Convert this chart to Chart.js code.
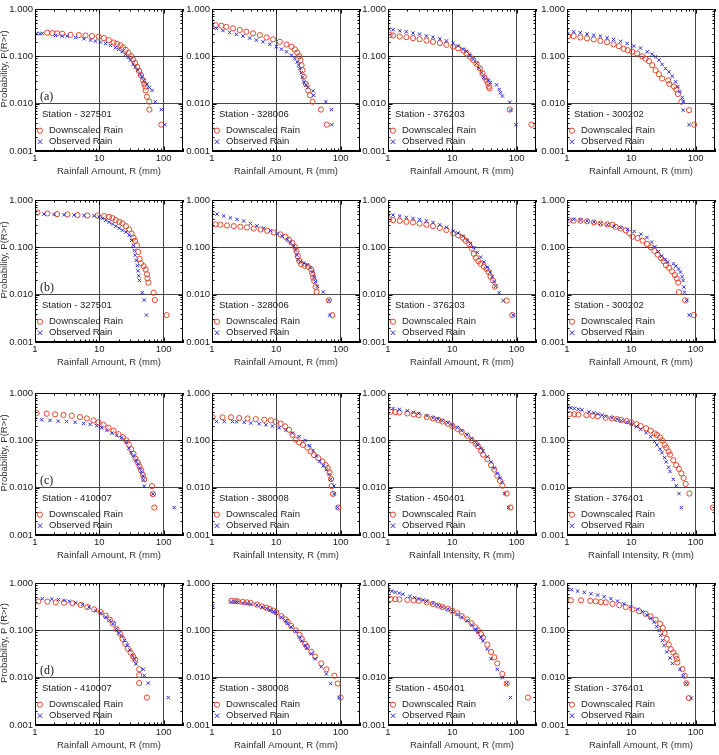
<!DOCTYPE html>
<html><head><meta charset="utf-8">
<script src="https://cdn.jsdelivr.net/npm/chart.js@4.4.1/dist/chart.umd.min.js"></script>
<style>
html,body{margin:0;padding:0;background:#fff;}
#wrap{position:relative;width:719px;height:755px;overflow:hidden;background:#fff;}
canvas{position:absolute;}
</style></head><body><div id="wrap"></div>
<script>
// ---------- data (x = rainfall R in mm, y = exceedance probability P(R>r)) ----------
const a1Down=[[1.55,0.316],[1.86,0.31],[2.2,0.305],[2.65,0.30],[3.57,0.285],[4.8,0.28],[6.1,0.276],[7.7,0.268],[9.8,0.26],[11.8,0.243],[14,0.22],[16.7,0.196],[18.9,0.184],[21.3,0.17],[23.4,0.154],[25.7,0.138],[28.3,0.119],[31.2,0.101],[33.5,0.086],[36,0.073],[38.6,0.06],[41.5,0.049],[44.5,0.04],[47.9,0.031],[50,0.026],[52,0.023],[52.6,0.019],[55,0.014],[60,0.011],[60,0.0075],[92,0.0036]];
const a1Obs=[[1.06,0.305],[1.2,0.30],[1.3,0.305],[2.09,0.277],[2.65,0.268],[3.17,0.268],[4.27,0.25],[5.75,0.235],[7.3,0.22],[8.7,0.21],[10.4,0.20],[12.5,0.187],[14.9,0.17],[17.8,0.152],[20,0.14],[22.6,0.125],[25.5,0.11],[28,0.095],[30.4,0.083],[33.5,0.068],[36.3,0.06],[39.5,0.051],[43.5,0.042],[46,0.037],[49,0.031],[55,0.026],[60,0.022],[66,0.019],[74,0.011],[92,0.0075],[104,0.0036]];
const a2Down=[[1.14,0.458],[1.4,0.443],[1.67,0.42],[2.12,0.39],[2.7,0.36],[3.43,0.33],[4.35,0.305],[5.53,0.28],[7.03,0.25],[8.9,0.228],[11.3,0.203],[14.4,0.178],[17.2,0.16],[19.4,0.14],[21.1,0.12],[22.7,0.101],[23.8,0.083],[24.7,0.065],[25.6,0.051],[26.8,0.037],[28.8,0.026],[31.3,0.019],[33.3,0.015],[36.6,0.011],[49.4,0.0075],[61,0.0036]];
const a2Obs=[[1.0,0.41],[1.17,0.39],[1.48,0.35],[1.88,0.32],[2.39,0.29],[3.04,0.268],[3.86,0.243],[4.9,0.22],[6.2,0.203],[7.9,0.18],[10,0.16],[12,0.142],[14.4,0.125],[17.2,0.106],[19.4,0.09],[21.1,0.076],[22.2,0.065],[23.2,0.055],[24.4,0.045],[25.6,0.036],[26.8,0.029],[28.8,0.025],[31.3,0.022],[37.5,0.0186],[38,0.015],[59,0.011],[72,0.0075],[73,0.0036]];
const a3Down=[[1.06,0.285],[1.2,0.276],[1.52,0.263],[1.93,0.254],[2.45,0.242],[3.1,0.23],[3.96,0.216],[5.0,0.202],[6.4,0.19],[8.1,0.175],[10.3,0.16],[12.3,0.148],[14.8,0.132],[16.6,0.116],[18.7,0.098],[21.1,0.084],[23.8,0.069],[26.8,0.056],[29.5,0.044],[31.7,0.036],[34,0.031],[35.8,0.027],[37,0.023],[38,0.021],[78,0.0075],[170,0.0036]];
const a3Obs=[[1.04,0.376],[1.2,0.365],[1.52,0.347],[1.93,0.33],[2.45,0.31],[3.1,0.295],[3.96,0.27],[5.0,0.254],[6.4,0.234],[8.1,0.212],[10.3,0.19],[12.3,0.166],[14.8,0.141],[16.6,0.126],[18.7,0.107],[21.1,0.086],[23.8,0.071],[26.2,0.056],[28.5,0.045],[31,0.036],[36.2,0.031],[39.3,0.028],[48.8,0.025],[53.7,0.02],[56,0.017],[60,0.0145],[78,0.0107],[80.6,0.0073],[98,0.0036]];
const a4Down=[[1.04,0.268],[1.27,0.268],[1.61,0.25],[2.05,0.24],[2.6,0.228],[3.3,0.212],[4.2,0.2],[5.3,0.18],[6.4,0.164],[7.6,0.144],[8.8,0.135],[10.3,0.125],[12.3,0.115],[14.7,0.1],[16.6,0.089],[18.8,0.079],[21.1,0.065],[23.8,0.051],[26.8,0.042],[30.2,0.034],[37.5,0.031],[39,0.026],[46,0.023],[50,0.02],[53,0.016],[60,0.011],[79,0.0073],[95,0.0036]];
const a4Obs=[[1.0,0.34],[1.27,0.33],[1.61,0.315],[2.05,0.296],[2.6,0.28],[3.3,0.268],[4.2,0.247],[5.3,0.228],[6.8,0.207],[8.6,0.187],[10.9,0.165],[13.9,0.15],[17.7,0.125],[21.1,0.111],[23.8,0.098],[26.8,0.083],[30.2,0.068],[34,0.055],[38.4,0.047],[43.3,0.038],[48.8,0.029],[53,0.023],[57,0.018],[62,0.0135],[64,0.011],[64,0.0073],[79,0.0036]];
const b1Down=[[1.09,0.547],[1.56,0.52],[2.2,0.504],[3.19,0.496],[4.57,0.48],[6.5,0.47],[9.4,0.47],[11.9,0.457],[14.2,0.44],[16,0.414],[18,0.375],[20.4,0.346],[22.9,0.32],[25.9,0.28],[29.2,0.238],[31.7,0.195],[34,0.16],[36,0.137],[38.4,0.11],[40.3,0.08],[42.3,0.057],[44.4,0.046],[48.8,0.04],[52.5,0.034],[55,0.027],[56,0.022],[58,0.018],[70,0.011],[73,0.0077],[111,0.0037]];
const b1Obs=[[1.0,0.52],[1.38,0.504],[1.98,0.496],[2.83,0.488],[4.05,0.48],[5.8,0.47],[8.3,0.464],[9.9,0.44],[11.2,0.41],[12.6,0.375],[14.2,0.34],[16,0.31],[18,0.28],[20.4,0.254],[22.9,0.23],[25.9,0.21],[29.2,0.18],[31.7,0.14],[33.7,0.11],[35,0.086],[36,0.068],[37.5,0.053],[39,0.041],[40,0.032],[41,0.025],[42,0.02],[46.5,0.011],[50,0.0077],[54,0.0037]];
const b2Down=[[1.13,0.305],[1.35,0.30],[1.71,0.29],[2.18,0.28],[2.77,0.272],[3.5,0.263],[4.46,0.25],[5.7,0.238],[7.2,0.224],[9.1,0.206],[11.6,0.187],[13.9,0.167],[15.7,0.146],[17.7,0.125],[19.4,0.103],[20.6,0.084],[21.6,0.065],[22.7,0.052],[24.4,0.044],[27.5,0.041],[31,0.039],[34.9,0.034],[36.2,0.028],[37.5,0.023],[38.9,0.0195],[40.8,0.0145],[42.3,0.0114],[65.8,0.0076],[74,0.0037]];
const b2Obs=[[1.0,0.54],[1.2,0.505],[1.52,0.46],[1.93,0.42],[2.45,0.39],[3.1,0.36],[3.96,0.32],[5.0,0.285],[6.4,0.252],[8.1,0.224],[10.3,0.196],[12.3,0.172],[14.8,0.146],[16.6,0.125],[18.7,0.106],[20,0.087],[20.9,0.068],[21.9,0.055],[23.8,0.05],[26.9,0.047],[30.2,0.043],[34,0.037],[36.6,0.03],[38.4,0.024],[40.7,0.019],[43.3,0.015],[53.7,0.0114],[65.8,0.0076],[67.6,0.0037]];
const b3Down=[[1.04,0.388],[1.2,0.375],[1.52,0.363],[1.93,0.346],[2.45,0.335],[3.1,0.318],[3.96,0.30],[5.0,0.28],[6.4,0.258],[8.1,0.232],[10.3,0.198],[12.3,0.18],[14.4,0.16],[16.2,0.137],[18.3,0.116],[20.2,0.094],[21.6,0.073],[23.2,0.06],[25.3,0.051],[27.5,0.045],[31,0.039],[34,0.035],[36.6,0.03],[39.3,0.024],[42.7,0.02],[46,0.0148],[70,0.0075],[85.5,0.0037]];
const b3Obs=[[1.0,0.504],[1.2,0.48],[1.52,0.457],[1.93,0.428],[2.45,0.407],[3.1,0.388],[3.96,0.363],[5.0,0.335],[6.4,0.30],[8.1,0.265],[10.3,0.222],[12.3,0.2],[14.8,0.171],[17,0.141],[19.1,0.12],[21.6,0.098],[24.4,0.078],[27.5,0.062],[31,0.049],[34.9,0.038],[38.4,0.03],[41.6,0.024],[44.7,0.019],[47,0.015],[53.5,0.011],[61.7,0.0075],[88.5,0.0037]];
const b4Down=[[1.06,0.377],[1.27,0.365],[1.62,0.365],[2.06,0.355],[2.62,0.336],[3.33,0.32],[4.24,0.305],[5.1,0.30],[5.7,0.27],[6.85,0.25],[8.2,0.228],[9.3,0.2],[10.4,0.168],[12.5,0.157],[15,0.138],[17.5,0.118],[20.2,0.1],[22.8,0.084],[25.7,0.07],[29,0.059],[31.8,0.051],[34.5,0.042],[38.6,0.037],[43,0.031],[47.4,0.026],[50.8,0.022],[53.5,0.018],[55.2,0.0113],[68.7,0.0076],[94,0.0037]];
const b4Obs=[[1.0,0.395],[1.27,0.39],[1.62,0.377],[2.06,0.36],[2.62,0.342],[3.33,0.32],[4.24,0.30],[5.4,0.28],[6.85,0.26],[8.7,0.24],[11.1,0.217],[14.1,0.19],[17.5,0.162],[20.7,0.129],[23.3,0.103],[26.3,0.081],[29.7,0.065],[33.5,0.055],[36.9,0.049],[45.2,0.045],[49.2,0.04],[54.2,0.035],[58.2,0.03],[61.7,0.024],[64,0.02],[65.6,0.0145],[67.2,0.0113],[73,0.0076],[79.4,0.0037]];
const c1Down=[[1.06,0.377],[1.52,0.365],[2.05,0.354],[2.77,0.343],[3.73,0.33],[5.0,0.31],[6.4,0.29],[8.1,0.264],[9.7,0.24],[11.6,0.213],[13.9,0.185],[16.6,0.16],[19.9,0.135],[23.2,0.117],[26.2,0.1],[28.8,0.081],[31.3,0.065],[34,0.052],[36.6,0.041],[39.8,0.034],[42.3,0.028],[44.9,0.023],[47.6,0.0187],[50,0.015],[65.8,0.0108],[68.2,0.0073],[71.6,0.0038]];
const c1Obs=[[1.0,0.28],[1.27,0.272],[1.71,0.264],[2.3,0.255],[3.1,0.25],[4.2,0.24],[5.7,0.228],[7.2,0.217],[9.1,0.204],[10.9,0.185],[13.1,0.162],[15.7,0.142],[18.7,0.127],[22.4,0.114],[26.2,0.09],[28.8,0.068],[31.3,0.055],[34,0.047],[37,0.038],[39.8,0.032],[42.3,0.026],[44.9,0.022],[47.6,0.0178],[48.8,0.0146],[50,0.0108],[68.2,0.0073],[146,0.0038]];
const c2Down=[[1.02,0.31],[1.46,0.306],[1.97,0.306],[2.65,0.296],[3.57,0.29],[4.8,0.28],[6.5,0.272],[8.2,0.264],[9.8,0.247],[11.7,0.224],[13.7,0.197],[15.8,0.167],[17.8,0.131],[20,0.103],[22.6,0.09],[26,0.08],[30.4,0.07],[34.3,0.058],[38.6,0.049],[45,0.042],[52,0.036],[58.5,0.03],[63,0.026],[67.5,0.021],[71,0.0152],[72.5,0.0108],[76,0.0074],[92,0.0038]];
const c2Obs=[[1.18,0.25],[1.55,0.25],[2.09,0.25],[2.41,0.247],[3.17,0.24],[4.0,0.232],[5.4,0.224],[6.9,0.213],[8.7,0.2],[11.1,0.184],[14,0.164],[17.8,0.142],[22.6,0.12],[28,0.1],[33,0.077],[37.3,0.061],[42,0.047],[47.2,0.036],[53.8,0.029],[60.7,0.024],[66,0.019],[70,0.015],[79,0.0108],[79.5,0.0074],[89.8,0.0038]];
const c3Down=[[1.1,0.40],[1.3,0.395],[1.5,0.39],[2,0.37],[2.5,0.355],[3,0.34],[4,0.31],[5,0.29],[6,0.27],[7,0.25],[8.5,0.225],[10,0.2],[12,0.175],[14,0.15],[17,0.125],[20,0.1],[23,0.085],[25,0.075],[28,0.06],[30,0.05],[35,0.04],[40,0.03],[45,0.024],[50,0.018],[55,0.014],[60,0.011],[70,0.0075],[80,0.0038]];
const c3Obs=[[1.0,0.5],[1.2,0.47],[1.5,0.45],[2,0.42],[2.5,0.39],[3,0.37],[4,0.33],[5,0.3],[6,0.28],[7,0.26],[8.5,0.235],[10,0.21],[12,0.185],[14,0.16],[17,0.13],[20,0.11],[23,0.09],[25,0.08],[28,0.068],[30,0.06],[35,0.045],[40,0.035],[45,0.026],[50,0.02],[55,0.016],[60,0.013],[65,0.0075],[75,0.0038]];
const c4Down=[[1.1,0.36],[1.3,0.355],[1.5,0.35],[2,0.34],[2.5,0.33],[3,0.32],[4,0.3],[5,0.29],[6,0.28],[7,0.27],[8.5,0.255],[10,0.24],[12,0.22],[14,0.2],[17,0.18],[20,0.16],[23,0.14],[25,0.13],[28,0.115],[30,0.1],[33,0.08],[35,0.07],[38,0.058],[40,0.05],[45,0.038],[50,0.03],[55,0.025],[60,0.02],[65,0.016],[70,0.012],[80,0.0075],[185,0.0038]];
const c4Obs=[[1.0,0.5],[1.15,0.485],[1.3,0.47],[1.5,0.455],[1.7,0.44],[2.2,0.4],[2.6,0.38],[3,0.36],[3.5,0.34],[4,0.32],[5,0.3],[6,0.28],[7,0.26],[8.5,0.24],[10,0.22],[12,0.195],[14,0.17],[17,0.145],[20,0.12],[23,0.095],[25,0.08],[28,0.065],[30,0.055],[33,0.043],[35,0.035],[38,0.027],[40,0.022],[45,0.015],[50,0.011],[55,0.0075],[60,0.0038]];
const d1Down=[[1.13,0.41],[1.56,0.403],[2.1,0.39],[2.83,0.383],[3.82,0.372],[5.15,0.343],[6.5,0.31],[8.3,0.277],[10.5,0.243],[12.6,0.204],[14.6,0.168],[16.4,0.138],[18.5,0.106],[20.9,0.085],[22.9,0.066],[25.3,0.052],[27.8,0.041],[30.6,0.034],[33.7,0.028],[36.2,0.024],[41.7,0.015],[41.7,0.0114],[41.7,0.0077],[55,0.0038]];
const d1Obs=[[1.3,0.466],[1.82,0.458],[2.31,0.444],[2.83,0.43],[3.39,0.41],[4.3,0.383],[5.5,0.353],[6.9,0.31],[8.8,0.263],[10.5,0.232],[12.6,0.19],[14.6,0.162],[16.4,0.138],[18.5,0.108],[20.4,0.087],[22.4,0.074],[24.7,0.061],[27.2,0.048],[29.9,0.038],[32.9,0.029],[35.3,0.024],[37.2,0.0195],[48.2,0.015],[50,0.0111],[57.7,0.0077],[118,0.0038]];
const d2Down=[[2,0.42],[2.3,0.415],[2.5,0.41],[3,0.4],[3.5,0.39],[4,0.38],[5,0.35],[6,0.32],[7,0.3],[8,0.28],[9,0.26],[10,0.24],[12,0.2],[14,0.17],[15,0.15],[17,0.125],[20,0.1],[23,0.08],[25,0.065],[28,0.052],[30,0.045],[35,0.035],[40,0.028],[50,0.02],[60,0.015],[80,0.011],[90,0.0075],[100,0.0038]];
const d2Obs=[[1.03,0.33],[2,0.4],[2.3,0.395],[2.5,0.39],[3,0.38],[3.5,0.37],[4,0.36],[5,0.34],[6,0.31],[7,0.29],[8,0.27],[9,0.25],[10,0.23],[12,0.19],[14,0.16],[15,0.14],[17,0.118],[20,0.095],[23,0.072],[25,0.06],[28,0.048],[30,0.042],[35,0.032],[40,0.025],[50,0.017],[60,0.012],[70,0.0075],[95,0.0038]];
const d3Down=[[1.1,0.46],[1.3,0.455],[1.5,0.45],[2,0.44],[2.5,0.43],[3,0.42],[4,0.39],[5,0.36],[6,0.335],[7,0.31],[8.5,0.285],[10,0.26],[12,0.23],[14,0.2],[17,0.17],[20,0.14],[23,0.115],[25,0.1],[28,0.083],[30,0.07],[35,0.05],[40,0.035],[45,0.027],[50,0.02],[60,0.012],[70,0.0075],[150,0.0038]];
const d3Obs=[[1.0,0.7],[1.15,0.67],[1.3,0.64],[1.5,0.61],[1.7,0.58],[2.2,0.52],[2.6,0.49],[3,0.46],[3.5,0.435],[4,0.41],[5,0.37],[6,0.34],[7,0.31],[8.5,0.28],[10,0.25],[12,0.22],[14,0.19],[17,0.16],[20,0.13],[23,0.105],[25,0.09],[28,0.072],[30,0.06],[35,0.04],[40,0.025],[50,0.015],[60,0.01],[70,0.0075],[80,0.0038]];
const d4Down=[[1.15,0.43],[1.65,0.43],[2.3,0.42],[2.8,0.41],[3.36,0.395],[4.0,0.39],[5.1,0.364],[6.5,0.34],[8.2,0.31],[10.4,0.28],[13.2,0.254],[16.7,0.224],[20,0.196],[23.9,0.167],[28,0.137],[30.8,0.113],[33,0.087],[35.5,0.066],[38.2,0.05],[41,0.04],[45,0.034],[49,0.029],[50.8,0.025],[52,0.021],[62.3,0.0152],[67.6,0.011],[71.6,0.0076],[78.6,0.0037]];
const d4Obs=[[1.0,0.76],[1.18,0.72],[1.46,0.676],[1.86,0.634],[2.36,0.594],[2.99,0.556],[3.79,0.513],[4.81,0.465],[6.1,0.415],[7.7,0.364],[9.8,0.32],[12.5,0.28],[14.9,0.246],[17.4,0.212],[20,0.18],[22.6,0.149],[24.8,0.12],[27,0.099],[28.6,0.078],[30.4,0.061],[32.3,0.048],[35.5,0.035],[40,0.026],[43.5,0.02],[57,0.015],[64.5,0.011],[71.6,0.0076],[85.7,0.0037]];

// ---------- labels ----------
const stations=[['327501','328006','376203','300202'],['327501','328006','376203','300202'],['410007','380008','450401','376401'],['410007','380008','450401','376401']];
const panelTags=['(a)','(b)','(c)','(d)'];
const xTitleAmount='Rainfall Amount, R (mm)';
const xTitleIntensity='Rainfall Intensity, R (mm)';
const xTitles=[[xTitleAmount,xTitleAmount,xTitleAmount,xTitleAmount],[xTitleAmount,xTitleAmount,xTitleAmount,xTitleAmount],[xTitleAmount,xTitleIntensity,xTitleIntensity,xTitleIntensity],[xTitleAmount,xTitleAmount,xTitleAmount,xTitleAmount]];
const yTitles=['Probability, P(R>r)','Probability, P(R>r)','Probability, P(R>r)','Probability, P (R>r)'];
const legendLabels=['Downscaled Rain','Observed Rain'];
const xTickValues=[1,10,100];
const yTickValues=[0.001,0.01,0.1,1];
const xMinorValues=[2,3,4,5,6,7,8,9,20,30,40,50,60,70,80,90,200];
const yMinorValues=[0.002,0.003,0.004,0.005,0.006,0.007,0.008,0.009,0.02,0.03,0.04,0.05,0.06,0.07,0.08,0.09,0.2,0.3,0.4,0.5,0.6,0.7,0.8,0.9];
const seriesGrid=[[[a1Down,a1Obs],[a2Down,a2Obs],[a3Down,a3Obs],[a4Down,a4Obs]],[[b1Down,b1Obs],[b2Down,b2Obs],[b3Down,b3Obs],[b4Down,b4Obs]],[[c1Down,c1Obs],[c2Down,c2Obs],[c3Down,c3Obs],[c4Down,c4Obs]],[[d1Down,d1Obs],[d2Down,d2Obs],[d3Down,d3Obs],[d4Down,d4Obs]]];

// ---------- style / layout ----------
const RED='#E2472B', BLUE='#2D2BD8';
const FONT='"Liberation Sans", Arial, sans-serif';
const COLS=[35,212,388,567], ROWS=[9,200,393,583];
const PW=148, PH=142, PADL=35, PADT=8, PADR=6, XAX=40;

function drawCircle(ctx,x,y,r){ctx.beginPath();ctx.arc(x,y,r,0,Math.PI*2);ctx.stroke();}
function drawX(ctx,x,y,r){ctx.beginPath();ctx.moveTo(x-r,y-r);ctx.lineTo(x+r,y+r);ctx.moveTo(x-r,y+r);ctx.lineTo(x+r,y-r);ctx.stroke();}

const decor={
  id:'decor',
  afterDraw(chart,args,o){
    const ctx=chart.ctx, a=chart.chartArea, xs=chart.scales.x, ys=chart.scales.y;
    ctx.save();
    ctx.strokeStyle='#000'; ctx.lineWidth=1;
    const vtick=(px,len)=>{const X=Math.round(px)+0.5;ctx.beginPath();ctx.moveTo(X,a.bottom);ctx.lineTo(X,a.bottom-len);ctx.moveTo(X,a.top);ctx.lineTo(X,a.top+len);ctx.stroke();};
    const htick=(py,len)=>{const Y=Math.round(py)+0.5;ctx.beginPath();ctx.moveTo(a.left,Y);ctx.lineTo(a.left+len,Y);ctx.moveTo(a.right,Y);ctx.lineTo(a.right-len,Y);ctx.stroke();};
    xMinorValues.forEach(v=>{if(v<=xs.max) vtick(xs.getPixelForValue(v),2.5);});
    xTickValues.forEach(v=>vtick(xs.getPixelForValue(v),4.5));
    yMinorValues.forEach(v=>htick(ys.getPixelForValue(v),2.5));
    yTickValues.forEach(v=>htick(ys.getPixelForValue(v),4.5));
    ctx.strokeRect(Math.round(a.left)+0.5,Math.round(a.top)+0.5,Math.round(a.right-a.left)-1,Math.round(a.bottom-a.top)-1);
    // station + legend
    ctx.fillStyle='#222'; ctx.font='9.5px '+FONT; ctx.textBaseline='middle'; ctx.textAlign='left';
    ctx.fillText('Station - '+o.station,a.left+7,a.top+105.5);
    ctx.lineWidth=1;
    ctx.strokeStyle=RED; drawCircle(ctx,a.left+5,a.top+121.7,2.6);
    ctx.strokeStyle=BLUE; drawX(ctx,a.left+5,a.top+132.7,2.3);
    ctx.fillText(legendLabels[0],a.left+14,a.top+121.7);
    ctx.fillText(legendLabels[1],a.left+14,a.top+132.7);
    if(o.tag){ctx.font='12px "Liberation Serif", "Times New Roman", serif';ctx.fillText(o.tag,a.left+5,a.top+88);}
    if(o.yTitle){
      ctx.save();ctx.translate(4.8,a.top+PH/2-11);ctx.rotate(-Math.PI/2);
      ctx.textAlign='center';ctx.textBaseline='middle';ctx.font='9.5px '+FONT;ctx.fillStyle='#333';
      ctx.fillText(o.yTitle,0,0);ctx.restore();
    }
    ctx.restore();
  }
};

const wrap=document.getElementById('wrap');
for(let r=0;r<4;r++){
  for(let c=0;c<4;c++){
    const cv=document.createElement('canvas');
    const W=PADL+PW+PADR, H=PADT+PH+XAX;
    cv.width=W; cv.height=H;
    cv.style.left=(COLS[c]-PADL)+'px'; cv.style.top=(ROWS[r]-PADT)+'px';
    cv.style.width=W+'px'; cv.style.height=H+'px';
    wrap.appendChild(cv);
    const [down,obs]=seriesGrid[r][c];
    new Chart(cv,{
      type:'scatter',
      data:{datasets:[
        {label:legendLabels[1],data:obs.map(p=>({x:p[0],y:p[1]})),pointStyle:'crossRot',pointRadius:2.4,borderColor:BLUE,backgroundColor:BLUE,pointBorderWidth:1,order:0},
        {label:legendLabels[0],data:down.map(p=>({x:p[0],y:p[1]})),pointStyle:'circle',pointRadius:2.6,borderColor:RED,backgroundColor:'rgba(0,0,0,0)',pointBorderWidth:1,order:1}
      ]},
      options:{
        responsive:false,animation:false,devicePixelRatio:1,events:[],
        layout:{padding:{top:PADT,right:PADR,left:0,bottom:0}},
        plugins:{legend:{display:false},tooltip:{enabled:false},
          decor:{station:stations[r][c],tag:c===0?panelTags[r]:null,yTitle:c===0?yTitles[r]:null}},
        scales:{
          x:{type:'logarithmic',position:'bottom',min:1,max:200,
            afterBuildTicks:s=>{s.ticks=xTickValues.map(v=>({value:v}));},
            afterFit:s=>{s.height=XAX;},
            ticks:{autoSkip:false,maxRotation:0,padding:2,color:'#222',font:{family:FONT,size:9.5},callback:v=>String(v)},
            grid:{color:'#444',lineWidth:1,drawTicks:false},
            border:{display:true,color:'#000',width:1},
            title:{display:true,text:xTitles[r][c],color:'#333',font:{family:FONT,size:9.5},padding:{top:0,bottom:14}}},
          y:{type:'logarithmic',position:'left',min:0.001,max:1,
            afterBuildTicks:s=>{s.ticks=yTickValues.map(v=>({value:v}));},
            afterFit:s=>{s.width=PADL;},
            ticks:{autoSkip:false,padding:2,color:'#222',font:{family:FONT,size:9.5},callback:v=>Number(v).toFixed(3)},
            grid:{color:'#444',lineWidth:1,drawTicks:false},
            border:{display:true,color:'#000',width:1}}
        }
      },
      plugins:[decor]
    });
  }
}
</script></body></html>
